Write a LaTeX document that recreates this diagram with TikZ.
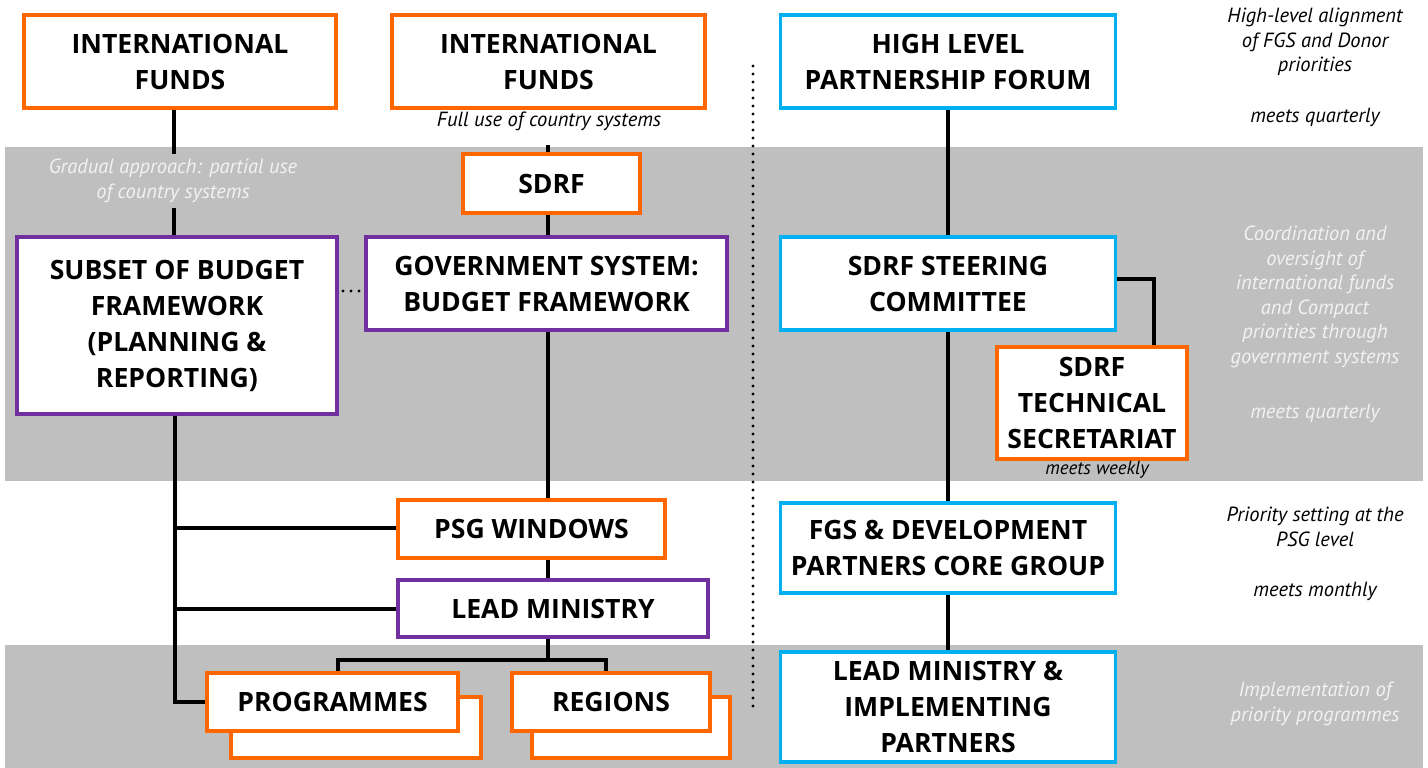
\documentclass[tikz,border=0pt]{standalone}
\usepackage{fontspec}
\setmainfont{PT Sans}
\newfontfamily\boxfont{Open Sans}
\definecolor{org}{HTML}{FF6600}
\definecolor{pur}{HTML}{7030A0}
\definecolor{blu}{HTML}{00B0F0}
\definecolor{gry}{HTML}{BFBFBF}
\definecolor{ltx}{HTML}{F2F2F2}
\newcommand{\bft}{\boxfont\fontsize{26.6}{36}\selectfont\bfseries}
\newcommand{\ift}{\fontsize{20.5}{24.5}\selectfont\itshape}
\tikzset{
  box/.style={draw, fill=white, line width=3.5pt, align=center, inner sep=0pt, font=\bft},
  obox/.style={box, draw=org},
  pbox/.style={box, draw=pur},
  bbox/.style={box, draw=blu},
  conn/.style={line width=4pt},
  dots/.style={line width=3.4pt, line cap=round, dash pattern=on 0pt off 8pt},
  note/.style={align=center, font=\ift, inner sep=0pt},
  wnote/.style={note, text=ltx},
}
\begin{document}
\begin{tikzpicture}[x=1pt,y=-1pt]
\useasboundingbox (0,0) rectangle (1428,768);
\fill[white] (0,0) rectangle (1428,768);
\fill[gry] (5,147) rectangle (1423,481);
\fill[gry] (5,645) rectangle (1423,768);

% top boxes
\node[obox, minimum width=312pt, minimum height=93pt] (if1) at (180,61.5) {INTERNATIONAL\\FUNDS};
\node[obox, minimum width=313pt, minimum height=93pt] (if2) at (548.5,61.5) {INTERNATIONAL\\FUNDS};
\node[bbox, minimum width=335pt, minimum height=93pt] (hlpf) at (948,61.5) {HIGH LEVEL\\PARTNERSHIP FORUM};

\node[note] (fuse) at (549,121) {Full use of country systems};
\node[wnote] (grad) at (173,181) {Gradual approach: partial use\\of country systems};

\node[obox, minimum width=177pt, minimum height=59pt] (sdrf) at (551.5,183.5) {SDRF};
\node[pbox, minimum width=361pt, minimum height=93pt] (gov) at (546.5,283.5) {GOVERNMENT SYSTEM:\\BUDGET FRAMEWORK};
\node[pbox, minimum width=320pt, minimum height=177pt] (sub) at (177,325.5) {SUBSET OF BUDGET\\FRAMEWORK\\(PLANNING \&\\REPORTING)};

\node[bbox, minimum width=335pt, minimum height=93pt] (steer) at (948,283.5) {SDRF STEERING\\COMMITTEE};
\node[obox, minimum width=190pt, minimum height=112pt] (ts) at (1092,403) {SDRF\\TECHNICAL\\SECRETARIAT};
\node[note, font=\fontsize{19}{22}\selectfont\itshape] (weekly) at (1097,470) {meets weekly};

\node[obox, minimum width=267pt, minimum height=58pt] (psg) at (531.5,529) {PSG WINDOWS};
\node[pbox, minimum width=310pt, minimum height=57pt] (lm) at (553,608.5) {LEAD MINISTRY};

\node[obox, minimum width=250pt, minimum height=61pt] (progb) at (356,727.5) {};
\node[obox, minimum width=251pt, minimum height=58pt] (progf) at (332.5,702) {PROGRAMMES};
\node[obox, minimum width=198pt, minimum height=61pt] (regb) at (631,727.5) {};
\node[obox, minimum width=198pt, minimum height=58pt] (regf) at (611,702) {REGIONS};

\node[bbox, minimum width=335pt, minimum height=90pt] (fgs) at (948,548) {FGS \& DEVELOPMENT\\PARTNERS CORE GROUP};
\node[bbox, minimum width=335pt, minimum height=110pt] (lmip) at (948,707) {LEAD MINISTRY \&\\IMPLEMENTING\\PARTNERS};

% right column notes
\node[note] (r1) at (1315,42) {High-level alignment\\of FGS and Donor\\priorities};
\node[note] (r1b) at (1315,117) {meets quarterly};
\node[wnote] (r2) at (1315,297) {Coordination and\\oversight of\\international funds\\and Compact\\priorities through\\government systems};
\node[wnote] (r2b) at (1315,413) {meets quarterly};
\node[note] (r3) at (1315,527) {Priority setting at the\\PSG level};
\node[note] (r3b) at (1315,591) {meets monthly};
\node[wnote] (r4) at (1315,704) {Implementation of\\priority programmes};

% coordinates
\coordinate (lx) at (174,0);
\coordinate (lx2) at (175,0);
\coordinate (mx) at (548,0);
\coordinate (c1) at (174,154);
\coordinate (c2) at (174,208);
\coordinate (c3) at (548,145);
\coordinate (jL) at (338,660);
\coordinate (jR) at (606,660);
\coordinate (tsj) at (1154,0);
\coordinate (dt) at (753,66);
\coordinate (db) at (753,708);
\coordinate (hd1) at (343,291);
\coordinate (hd2) at (361,291);

% connectors left/middle
\draw[conn] (if1.south -| lx) -- (c1);
\draw[conn] (c2) -- (sub.north -| c2);
\draw[conn] (c3) -- (sdrf.north -| mx);
\draw[conn] (sdrf.south -| mx) -- (gov.north -| mx);
\draw[conn] (gov.south -| mx) -- (psg.north -| mx);
\draw[conn] (psg.south -| mx) -- (lm.north -| mx);
\draw[conn] (lm.south -| mx) -- (mx |- jL);
\draw[conn] (jL |- progf.north) -- (jL) -- (jR) -- (jR |- regf.north);
\draw[conn] (sub.south -| lx2) -- (lx2 |- progf.west) -- (progf.west);
\draw[conn] (lx2 |- 0,528) -- (psg.west |- 0,528);
\draw[conn] (lx2 |- lm.west) -- (lm.west);

% connectors right
\draw[conn] (hlpf.south) -- (steer.north);
\draw[conn] (steer.south) -- (fgs.north);
\draw[conn] (fgs.south) -- (lmip.north);
\draw[conn] (steer.east |- 0,279) -| (ts.north -| tsj);

% dotted lines
\draw[dots] (dt) -- (db);
\draw[dots] (hd1) -- (hd2);
\end{tikzpicture}
\end{document}
